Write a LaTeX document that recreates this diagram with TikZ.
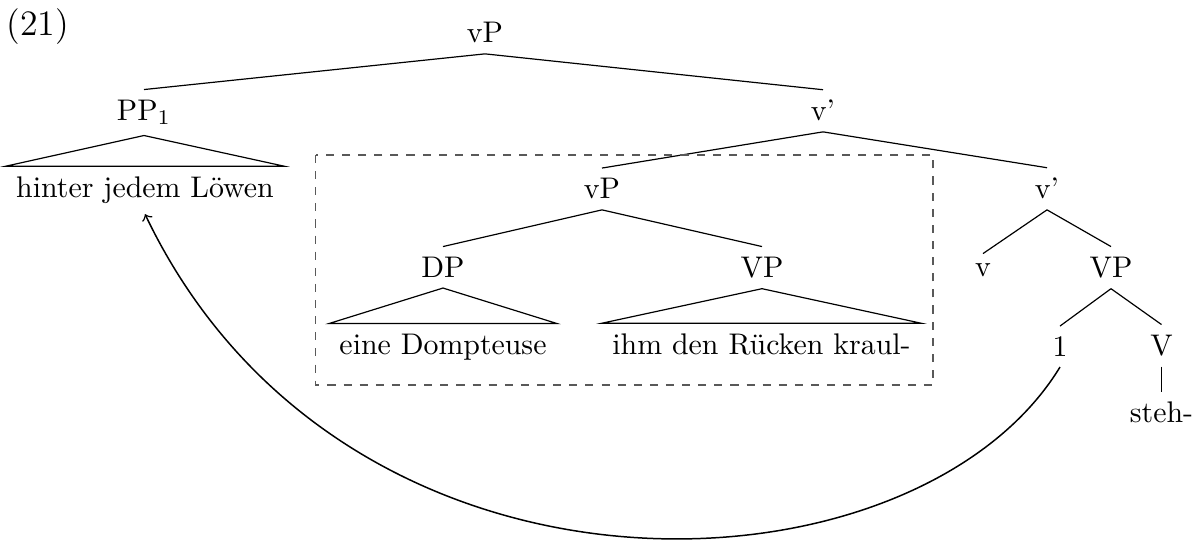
\documentclass[tikz,border=0pt]{standalone}
\usetikzlibrary{calc}
\begin{document}
\begin{tikzpicture}[x=0.335pt,y=-0.335pt,
  lab/.style={anchor=base},
  edge/.style={draw=black,line width=0.4pt},
  roof/.style={draw=black,line width=0.4pt},
  boxline/.style={draw=black!65,line width=0.5pt,dash pattern=on 2.7pt off 2.7pt},
  mover/.style={->,line width=0.5pt}]
\useasboundingbox (0,0) rectangle (1198,547);
% example number
\node[anchor=base west,inner sep=0pt,font=\large] (ex) at (6,36) {(21)};
% level 1
\node[lab] (vP) at (485,43) {vP};
% level 2
\node[lab] (PP) at (144,120.5) {PP$_1$};
\node[lab] (vbar1) at (823,121) {v'};
% level 3
\node[lab] (hjl) at (145,197.5) {hinter jedem L\"owen};
\node[lab] (vPi) at (602,199) {vP};
\node[lab] (vbar2) at (1047,199) {v'};
% level 4
\node[lab] (DP) at (443,277.5) {DP};
\node[lab] (VPi) at (762,277.5) {VP};
\node[lab] (v) at (983,277) {v};
\node[lab] (VP2) at (1111,277.5) {VP};
% level 5
\node[lab] (eine) at (443,354.5) {eine Dompteuse};
\node[lab] (ihm) at (761.5,354.5) {ihm den R\"ucken kraul-};
\node[lab] (one) at (1060,356.5) {1};
\node[lab] (V) at (1161.5,355.5) {V};
% level 6
\node[lab] (steh) at (1161.5,423) {steh-};
% edges
\draw[edge] (vP.south) -- (PP.north);
\draw[edge] (vP.south) -- (vbar1.north);
\draw[edge] (vbar1.south) -- (vPi.north);
\draw[edge] (vbar1.south) -- (vbar2.north);
\draw[edge] (vPi.south) -- (DP.north);
\draw[edge] (vPi.south) -- (VPi.north);
\draw[edge] (vbar2.south) -- (v.north);
\draw[edge] (vbar2.south) -- (VP2.north);
\draw[edge] (VP2.south) -- (one.north);
\draw[edge] (VP2.south) -- (V.north);
\draw[edge] (V.south) -- (steh.north);
% roofs
\draw[roof] (PP.south) -- (hjl.north west) -- (hjl.north east) -- cycle;
\draw[roof] (DP.south) -- (eine.north west) -- (eine.north east) -- cycle;
\draw[roof] (VPi.south) -- (ihm.north west) -- (ihm.north east) -- cycle;
% dashed box
\draw[boxline] (315.7,155) rectangle (933,385);
% movement arrow
\draw[mover] (one.south) .. controls (915,605) and (345,632) .. (hjl.south);
\end{tikzpicture}
\end{document}
